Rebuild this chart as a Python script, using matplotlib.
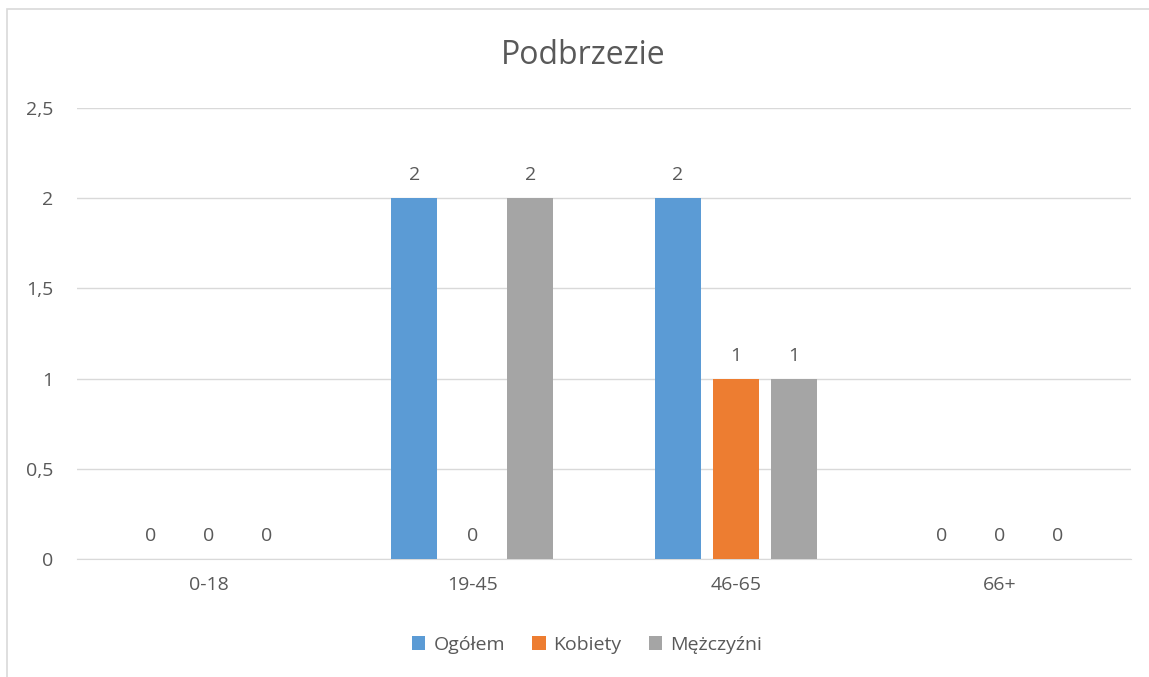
import matplotlib
matplotlib.use('Agg')
import matplotlib.pyplot as plt
from matplotlib.patches import Rectangle
import numpy as np

categories = ['0-18', '19-45', '46-65', '66+']
series_names = ['Ogółem', 'Kobiety', 'Mężczyźni']
ogolem = [0, 2, 2, 0]
kobiety = [0, 0, 1, 0]
mezczyzni = [0, 2, 1, 0]
colors = ['#5b9bd5', '#ed7d31', '#a5a5a5']

plt.rcParams['font.family'] = ['Open Sans', 'DejaVu Sans']
text_color = '#595959'

fig = plt.figure(figsize=(11.49, 6.77), dpi=100)
ax = fig.add_axes([77 / 1149, 1 - 559 / 677, (1131 - 77) / 1149, (559 - 108) / 677])

# chart frame (only left and top edges visible in the original crop)
fig.patches.append(Rectangle((7 / 1149, -0.1), 1.2, 1 - 9 / 677 + 0.1,
                             transform=fig.transFigure, fill=False,
                             edgecolor='#d9d9d9', linewidth=1.2))

x = np.arange(len(categories))
width = 0.175
offset = 0.22
for i, (vals, name) in enumerate(zip([ogolem, kobiety, mezczyzni], series_names)):
    pos = x + (i - 1) * offset
    ax.bar(pos, vals, width, color=colors[i], label=name, zorder=3)
    for p, v in zip(pos, vals):
        ax.annotate(str(v), (p, v), xytext=(0, 10), textcoords='offset points',
                    ha='center', va='bottom', fontsize=14, color=text_color)

ax.set_xlim(-0.5, len(categories) - 0.5)
ax.set_ylim(0, 2.5)
ax.set_yticks([0, 0.5, 1, 1.5, 2, 2.5])
ax.set_yticklabels(['0', '0,5', '1', '1,5', '2', '2,5'])
ax.set_xticks(x)
ax.set_xticklabels(categories)
ax.tick_params(axis='both', length=0, labelsize=14, labelcolor=text_color)
ax.tick_params(axis='y', pad=17)
ax.tick_params(axis='x', pad=12)
ax.grid(axis='y', color='#d9d9d9', linewidth=1, zorder=0)
for s in ['top', 'right', 'left']:
    ax.spines[s].set_visible(False)
ax.spines['bottom'].set_color('#d9d9d9')

fig.text(583 / 1149, 1 - 55 / 677, 'Podbrzezie', ha='center', va='center',
         fontsize=23, color=text_color)

leg = fig.legend(loc='center', bbox_to_anchor=(587 / 1149, 1 - 645 / 677), ncol=3,
                 frameon=False, fontsize=14, handlelength=0.7, handleheight=0.7,
                 handletextpad=0.4, columnspacing=1.4, labelcolor=text_color)

fig.savefig('out.png', dpi=100)
